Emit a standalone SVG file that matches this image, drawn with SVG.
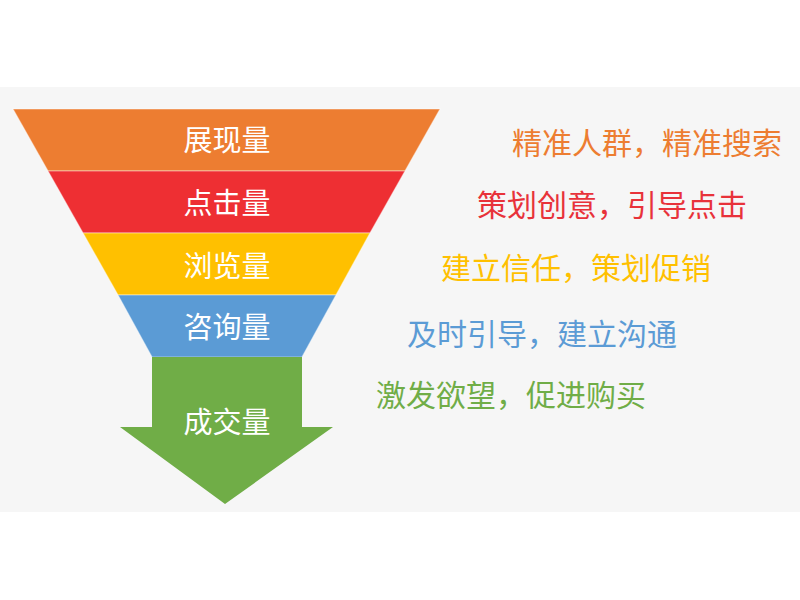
<svg xmlns="http://www.w3.org/2000/svg" width="800" height="600" viewBox="0 0 800 600">
<style>
.lbl{font-family:"Noto Sans CJK SC","Noto Sans",sans-serif;font-size:29px;fill:#fff;text-anchor:middle}
.desc{font-family:"Noto Sans CJK SC","Noto Sans",sans-serif;font-size:30px}
.layer{stroke:#fff;stroke-opacity:0.45;stroke-width:1.2}
</style>
<rect x="0" y="0" width="800" height="600" fill="#fff"/>
<rect x="0" y="87" width="800" height="425" fill="#f6f6f6"/>
<g id="layer1">
<polygon class="layer" points="13,109 440,109 405,171 48,171" fill="#ED7D31"/>
<text class="lbl" x="227" y="151">展现量</text>
</g>
<g id="layer2">
<polygon class="layer" points="48,171 405,171 370,233 83,233" fill="#EE2F33"/>
<text class="lbl" x="227" y="214">点击量</text>
</g>
<g id="layer3">
<polygon class="layer" points="83,233 370,233 336,295 118,295" fill="#FFC000"/>
<text class="lbl" x="227" y="277">浏览量</text>
</g>
<g id="layer4">
<polygon class="layer" points="118,295 336,295 302,357 152,357" fill="#5B9BD5"/>
<text class="lbl" x="227" y="338">咨询量</text>
</g>
<g id="layer5">
<polygon points="152,357 302,357 302,427 333,427 225,504 120,427 152,427" fill="#70AD47"/>
<text class="lbl" x="227" y="433">成交量</text>
</g>
<g id="descriptions">
<text class="desc" x="512" y="154" fill="#ED7D31">精准人群，精准搜索</text>
<text class="desc" x="477" y="216" fill="#E8323A">策划创意，引导点击</text>
<text class="desc" x="441" y="279" fill="#FFC000">建立信任，策划促销</text>
<text class="desc" x="407" y="345" fill="#5B9BD5">及时引导，建立沟通</text>
<text class="desc" x="376" y="406" fill="#70AD47">激发欲望，促进购买</text>
</g>
<g id="connectors"></g>
</svg>
